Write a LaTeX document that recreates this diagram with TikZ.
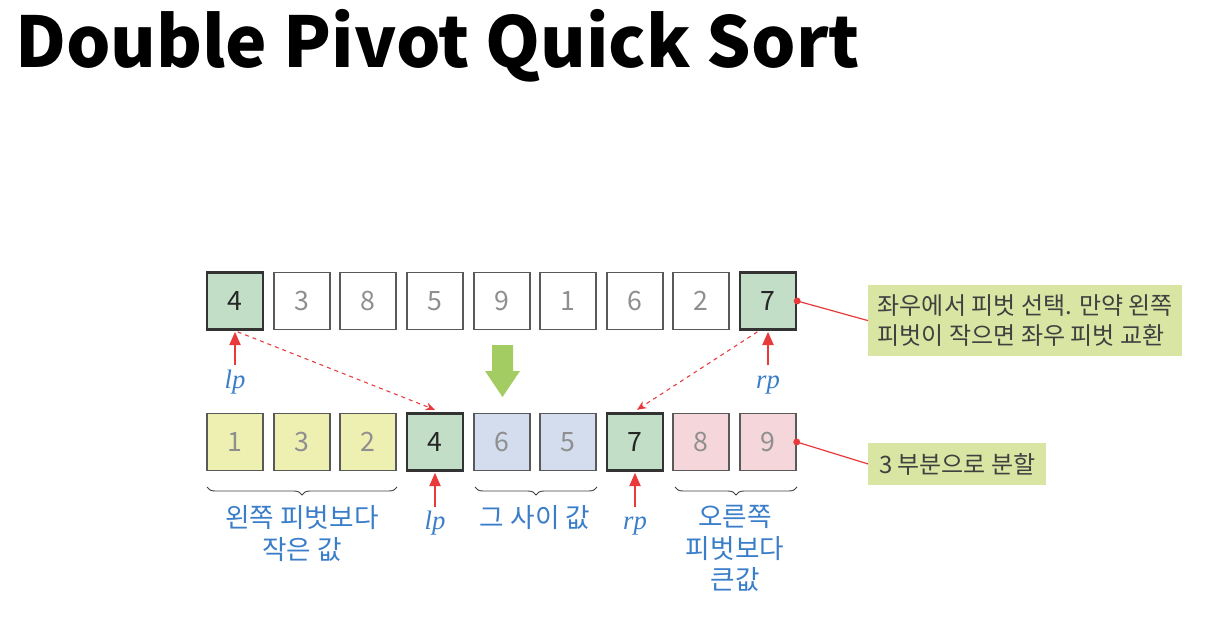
\documentclass[tikz,border=0pt]{standalone}
\usepackage{fontspec}
\setmainfont{Noto Sans CJK KR}
\newfontfamily\ptrfont{Liberation Serif}
\usetikzlibrary{arrows.meta,decorations.pathreplacing}
\definecolor{numgray}{HTML}{8F8F8F}
\definecolor{pivgreen}{HTML}{C2DEC6}
\definecolor{lyellow}{HTML}{EEF0B2}
\definecolor{lblue}{HTML}{D3DDEE}
\definecolor{lpink}{HTML}{F5D7DB}
\definecolor{callfill}{HTML}{D9E5A3}
\definecolor{arrred}{HTML}{E8393B}
\definecolor{labblue}{HTML}{3A7DC9}
\definecolor{bigarrow}{HTML}{A3CC62}
\begin{document}
\begin{tikzpicture}[x=0.75pt,y=-0.75pt,
  box/.style={draw=black!65, line width=1.1pt, minimum width=42pt, minimum height=42.5pt,
    inner sep=0pt, font=\fontsize{20}{22}\selectfont, text=numgray},
  pivot/.style={box, fill=pivgreen, draw=black!80, line width=1.8pt, text=black!85},
  lbox/.style={box, fill=lyellow},
  mbox/.style={box, fill=lblue},
  rbox/.style={box, fill=lpink},
  ptr/.style={anchor=base, text=labblue, font=\ptrfont\itshape\fontsize{20}{20}\selectfont, inner sep=0pt},
  uparrow/.style={draw=arrred, line width=1.1pt, -{Triangle[length=10pt,width=8.5pt]}},
  dasharrow/.style={draw=arrred, line width=0.8pt, dashed, -{Stealth[length=7pt,width=6pt]}},
  callout/.style={fill=callfill, text=black!75, align=left, inner xsep=6pt, inner ysep=4pt,
    font=\fontsize{18}{22.5}\selectfont},
  calline/.style={draw=arrred, line width=0.9pt},
  lab/.style={text=labblue, align=center, font=\fontsize{20}{23.6}\selectfont},
  brace/.style={draw=black!75, line width=0.7pt, decorate, decoration={brace, mirror, amplitude=6pt}}
]
\useasboundingbox (0,0) rectangle (1210,624);

% title
\node[anchor=base west, inner sep=0pt, font=\fontsize{52.5}{60}\bfseries\selectfont] (title) at (15,68) {Double Pivot Quick Sort};

% top row
\node[pivot] (t1) at (235,301) {4};
\node[box]   (t2) at (302,301) {3};
\node[box]   (t3) at (368,301) {8};
\node[box]   (t4) at (435,301) {5};
\node[box]   (t5) at (502,301) {9};
\node[box]   (t6) at (568,301) {1};
\node[box]   (t7) at (635,301) {6};
\node[box]   (t8) at (701,301) {2};
\node[pivot] (t9) at (768,301) {7};

% bottom row
\node[lbox]  (b1) at (235,442) {1};
\node[lbox]  (b2) at (302,442) {3};
\node[lbox]  (b3) at (368,442) {2};
\node[pivot] (b4) at (435,442) {4};
\node[mbox]  (b5) at (502,442) {6};
\node[mbox]  (b6) at (568,442) {5};
\node[pivot] (b7) at (635,442) {7};
\node[rbox]  (b8) at (701,442) {8};
\node[rbox]  (b9) at (768,442) {9};

% big green arrow
\fill[bigarrow] (492,345) -- (513,345) -- (513,371) -- (520,371) -- (502.5,397) -- (485,371) -- (492,371) -- cycle;

% pointers top
\node[ptr] (lpt) at (235,388) {lp};
\node[ptr] (rpt) at (768,388) {rp};
\draw[uparrow] ([yshift=17pt]lpt.base) -- ([yshift=-1pt]t1.south);
\draw[uparrow] ([yshift=17pt]rpt.base) -- ([yshift=-1pt]t9.south);

% pointers bottom
\node[ptr] (lpb) at (435,529) {lp};
\node[ptr] (rpb) at (635,529) {rp};
\draw[uparrow] ([yshift=16.5pt]lpb.base) -- ([yshift=-1pt]b4.south);
\draw[uparrow] ([yshift=16.5pt]rpb.base) -- ([yshift=-1pt]b7.south);

% dashed moves
\draw[dasharrow] ([xshift=2pt,yshift=-1pt]t1.south) -- ([yshift=2pt]b4.north);
\draw[dasharrow] ([xshift=-8pt,yshift=-1pt]t9.south) -- ([xshift=1.5pt,yshift=2pt]b7.north);

% callouts
\node[callout, anchor=north west, minimum width=235.5pt, minimum height=53pt] (c1) at (868,285)
  {좌우에서 피벗 선택. 만약 왼쪽\\피벗이 작으면 좌우 피벗 교환};
\node[callout, anchor=north west, minimum width=133.5pt, minimum height=31pt] (c2) at (868,443)
  {3 부분으로 분할};
\draw[calline] (c1.west) -- (t9.east);
\fill[arrred] (t9.east) circle (2.6pt);
\draw[calline] (c2.west) -- (b9.east);
\fill[arrred] (b9.east) circle (2.6pt);

% braces
\coordinate (br1s) at (207,487); \coordinate (br1e) at (397,487);
\coordinate (br2s) at (475,487); \coordinate (br2e) at (597,487);
\coordinate (br3s) at (675,487); \coordinate (br3e) at (797,487);
\draw[brace] (br1s) -- (br1e);
\draw[brace] (br2s) -- (br2e);
\draw[brace] (br3s) -- (br3e);

% labels
\node[lab, anchor=north] (l1) at (302,501) {왼쪽 피벗보다\\작은 값};
\node[lab, anchor=north] (l2) at (535,501) {그 사이 값};
\node[lab, anchor=north] (l3) at (735,501) {오른쪽\\피벗보다\\큰값};
\end{tikzpicture}
\end{document}
